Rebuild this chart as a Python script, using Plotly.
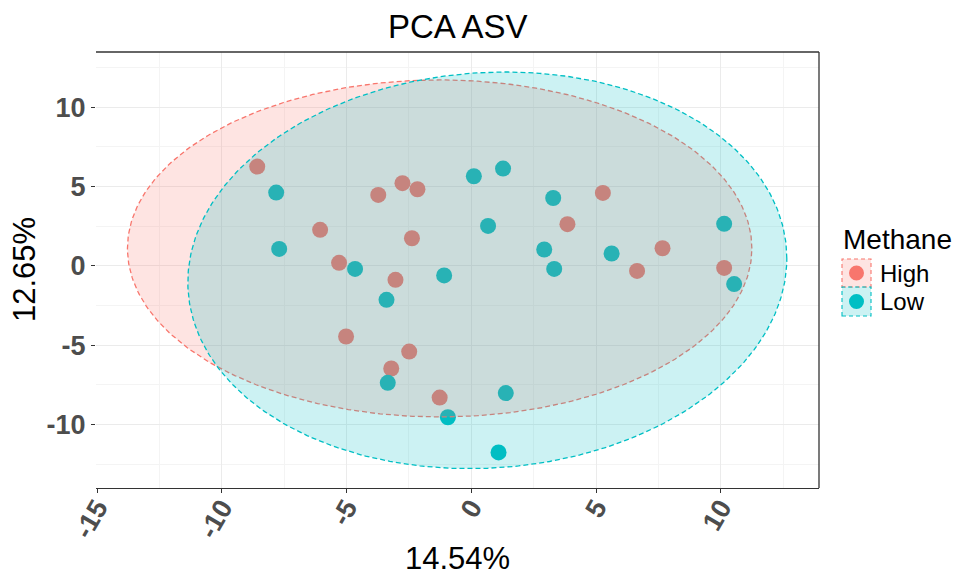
import numpy as np
import plotly.graph_objects as go

# PCA scores per methane group
high_pc1 = [-8.58, -3.73, -2.76, -2.16, -6.06, -2.38, -5.30, -3.04, 5.27, 3.85,
            7.66, 6.64, 10.13, -5.02, -2.49, -3.21, -1.27]
high_pc2 = [6.26, 4.47, 5.21, 4.83, 2.27, 1.74, 0.19, -0.88, 4.60, 2.63,
            1.11, -0.32, -0.13, -4.45, -5.40, -6.47, -8.30]

low_pc1 = [-7.82, -7.70, -4.66, -1.09, 0.10, 1.27, 3.28, 0.67, 2.92, 5.62,
           3.32, 10.13, 10.53, -3.40, -3.35, -0.94, 1.38, 1.09]
low_pc2 = [4.62, 1.07, -0.19, -0.60, 5.65, 6.13, 4.28, 2.52, 1.03, 0.78,
           -0.19, 2.65, -1.15, -2.14, -7.37, -9.54, -8.02, -11.76]

groups = ["High", "Low"]
colors = ["#F8766D", "#00BFC4"]
fills = ["rgba(248,118,109,0.2)", "rgba(0,191,196,0.2)"]

# 95% ellipse parameters per group: centre, half-extent along x / y, correlation
ell_cx = [-1.27, 0.64]
ell_cy = [1.10, -0.28]
ell_hx = [12.51, 12.00]
ell_hy = [10.62, 12.50]
ell_rho = [0.0, 0.06]

x_ticks = [-15, -10, -5, 0, 5, 10]
x_ticktext = ["-15", "-10", "-5", "0", "5", "10"]
y_ticks = [-10, -5, 0, 5, 10]
y_ticktext = ["-10", "-5", "0", "5", "10"]
x_title = "14.54%"
y_title = "12.65%"
title = "PCA ASV"
legend_title = "Methane"

FONT = "Liberation Sans, Arial, sans-serif"

fig = go.Figure()

# points first, ellipses drawn on top
for name, xs, ys, col in zip(groups, [high_pc1, low_pc1], [high_pc2, low_pc2], colors):
    fig.add_trace(go.Scatter(x=xs, y=ys, mode="markers", name=name,
                             marker=dict(size=16, color=col, line=dict(width=0)),
                             showlegend=False, hoverinfo="x+y+name"))

t = np.linspace(0, 2 * np.pi, 361)
for i, name in enumerate(groups):
    ex = ell_cx[i] + ell_hx[i] * np.cos(t)
    ey = ell_cy[i] + ell_hy[i] * (ell_rho[i] * np.cos(t) + np.sqrt(1 - ell_rho[i] ** 2) * np.sin(t))
    fig.add_trace(go.Scatter(x=ex, y=ey, mode="lines", fill="toself",
                             fillcolor=fills[i],
                             line=dict(color=colors[i], width=1.3, dash="5px,3px"),
                             showlegend=False, hoverinfo="skip"))

# plot area in pixels
L, R, T, B = 96, 819, 52, 488
W, H = 960, 578
def px(xp):
    return (xp - L) / (R - L)
def py(yp):
    return (B - yp) / (B - T)

axis_common = dict(
    showgrid=True, gridcolor="#EBEBEB", gridwidth=1.2,
    zeroline=False, ticks="outside", ticklen=4, tickwidth=1.1, tickcolor="#333333",
    tickfont=dict(family=FONT, size=27, color="#4D4D4D", weight="bold"),
    minor=dict(dtick=2.5, tick0=0, showgrid=True, gridcolor="#F4F4F4", gridwidth=0.7, ticks=""),
)

fig.update_layout(
    width=W, height=H,
    margin=dict(l=L, r=W - R, t=T, b=H - B, pad=0),
    paper_bgcolor="white", plot_bgcolor="white",
    showlegend=False,
    xaxis=dict(range=[-15.04, 13.93], tickmode="array", tickvals=x_ticks, ticktext=x_ticktext,
               tickangle=-60, ticklabelstandoff=-12,
               showline=True, linecolor="#333333", linewidth=1.3, **axis_common),
    yaxis=dict(range=[-14.0, 13.48], tickmode="array", tickvals=y_ticks, ticktext=y_ticktext,
               showline=False, **axis_common),
)

shapes = [
    # panel border (top and right)
    dict(type="line", xref="paper", yref="paper", x0=0, x1=1, y0=1, y1=1,
         line=dict(color="#333333", width=1.3)),
    dict(type="line", xref="paper", yref="paper", x0=1, x1=1, y0=0, y1=1,
         line=dict(color="#333333", width=1.3)),
]

# legend keys
key_x0, key_x1 = 842, 871
key_rows = [(259, 287), (287, 316)]
for (y0, y1), col, fc in zip(key_rows, colors, fills):
    shapes.append(dict(type="rect", xref="paper", yref="paper",
                       x0=px(key_x0), x1=px(key_x1), y0=py(y1), y1=py(y0),
                       fillcolor=fc, line=dict(color=col, width=1.1, dash="4px,3px")))
    cxp, cyp, r = (key_x0 + key_x1) / 2, (y0 + y1) / 2, 7.5
    shapes.append(dict(type="circle", xref="paper", yref="paper",
                       x0=px(cxp - r), x1=px(cxp + r), y0=py(cyp + r), y1=py(cyp - r),
                       fillcolor=col, line=dict(width=0)))
fig.update_layout(shapes=shapes)

annotations = [
    dict(text=title, x=px((L + R) / 2), y=py(26), xref="paper", yref="paper",
         showarrow=False, xanchor="center", yanchor="middle",
         font=dict(family=FONT, size=33, color="black")),
    dict(text=x_title, x=px((L + R) / 2), y=py(558), xref="paper", yref="paper",
         showarrow=False, xanchor="center", yanchor="middle",
         font=dict(family=FONT, size=31, color="black")),
    dict(text=y_title, x=px(24), y=py(270), xref="paper", yref="paper",
         showarrow=False, xanchor="center", yanchor="middle", textangle=-90,
         font=dict(family=FONT, size=31, color="black")),
    dict(text=legend_title, x=px(841), y=py(239), xref="paper", yref="paper",
         showarrow=False, xanchor="left", yanchor="middle",
         font=dict(family=FONT, size=28, color="black")),
]
for (y0, y1), name in zip(key_rows, groups):
    annotations.append(dict(text=name, x=px(878), y=py((y0 + y1) / 2), xref="paper", yref="paper",
                            showarrow=False, xanchor="left", yanchor="middle",
                            font=dict(family=FONT, size=24, color="black")))
fig.update_layout(annotations=annotations)

fig.write_html("out.html")
